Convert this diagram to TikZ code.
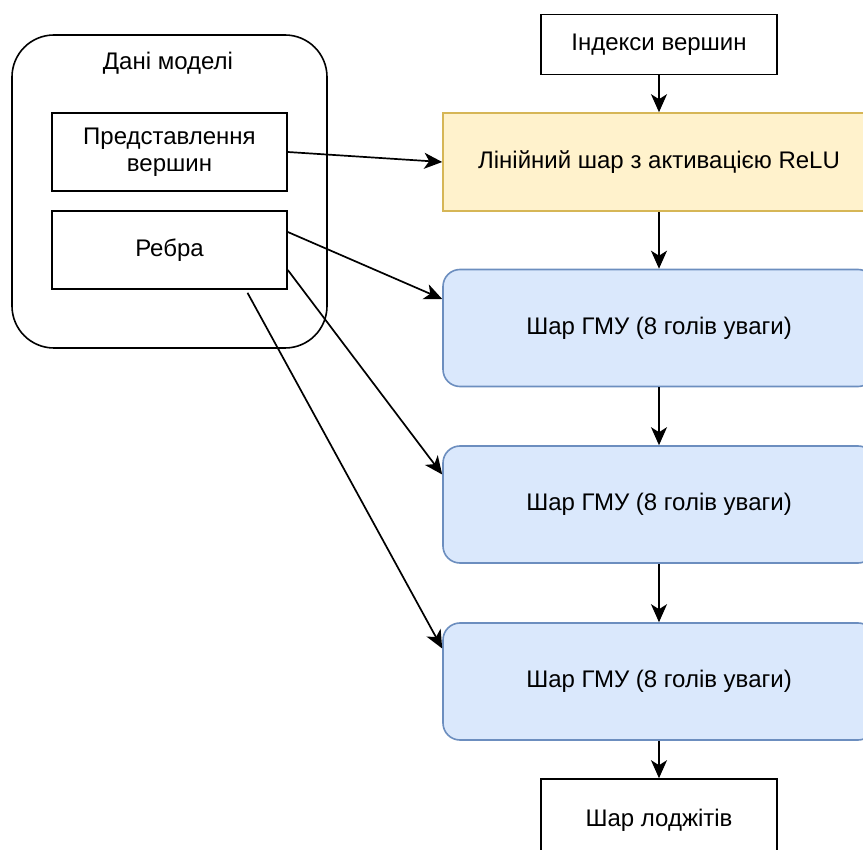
\documentclass[tikz,border=0pt]{standalone}
\usepackage{fontspec}
\setmainfont{Liberation Sans}
\usetikzlibrary{arrows.meta}

\definecolor{reluFill}{HTML}{FFF2CC}
\definecolor{reluLine}{HTML}{D6B656}
\definecolor{gmuFill}{HTML}{DAE8FC}
\definecolor{gmuLine}{HTML}{6C8EBF}

\tikzset{
  base/.style={inner sep=0pt, line width=1.6pt, align=center,
    font=\fontsize{24}{27.5}\selectfont},
  plainbox/.style={base, draw=black, fill=white},
  relubox/.style={base, draw=reluLine, fill=reluFill,
    minimum width=432pt, minimum height=98pt},
  gmubox/.style={base, draw=gmuLine, fill=gmuFill, rounded corners=17pt,
    minimum width=432pt, minimum height=117pt},
  iobox/.style={plainbox, minimum width=236pt, minimum height=60pt},
  link/.style={line width=1.7pt, draw=black,
    -{Stealth[length=18pt, width=16pt, inset=5pt]}},
}

\begin{document}
\begin{tikzpicture}[x=1pt, y=-1pt]
  \useasboundingbox (0,0) rectangle (863,850);
  \fill[white] (0,0) rectangle (863,850);
  \clip (0,0) rectangle (863,850);

  % model data container
  \node[base, draw=black, rounded corners=42pt,
        minimum width=315pt, minimum height=313pt] (data) at (169.5,191.5) {};
  \node[base] (datalabel) at (168,63.5) {Дані моделі};
  \node[plainbox, minimum width=235pt, minimum height=78pt] (repr) at (169.5,152)
    {Представлення\\вершин};
  \node[plainbox, minimum width=235pt, minimum height=78pt] (edges) at (169.5,250)
    {Ребра};

  % main pipeline
  \node[iobox] (idx) at (659,44.5) {Індекси вершин};
  \node[relubox] (relu) at (659,162) {Лінійний шар з активацією ReLU};
  \node[gmubox] (gmu1) at (659,328) {Шар ГМУ (8 голів уваги)};
  \node[gmubox] (gmu2) at (659,504.5) {Шар ГМУ (8 голів уваги)};
  \node[gmubox] (gmu3) at (659,681.5) {Шар ГМУ (8 голів уваги)};
  \node[plainbox, minimum width=236pt, minimum height=82pt] (logits) at (659,820)
    {Шар лоджітів};

  \draw[link] (idx) -- (relu);
  \draw[link] (relu) -- (gmu1);
  \draw[link] (gmu1) -- (gmu2);
  \draw[link] (gmu2) -- (gmu3);
  \draw[link] (gmu3) -- (logits);

  % inputs from the model data
  \draw[link] (repr.east) -- (relu.west);
  \draw[link] ([yshift=18pt]edges.east) -- ([yshift=29pt]gmu1.west);
  \draw[link] ([yshift=-20pt]edges.east) -- ([yshift=30pt]gmu2.west);
  \draw[link] ([xshift=78pt,yshift=-3pt]edges.south) -- ([yshift=33pt]gmu3.west);
\end{tikzpicture}
\end{document}
